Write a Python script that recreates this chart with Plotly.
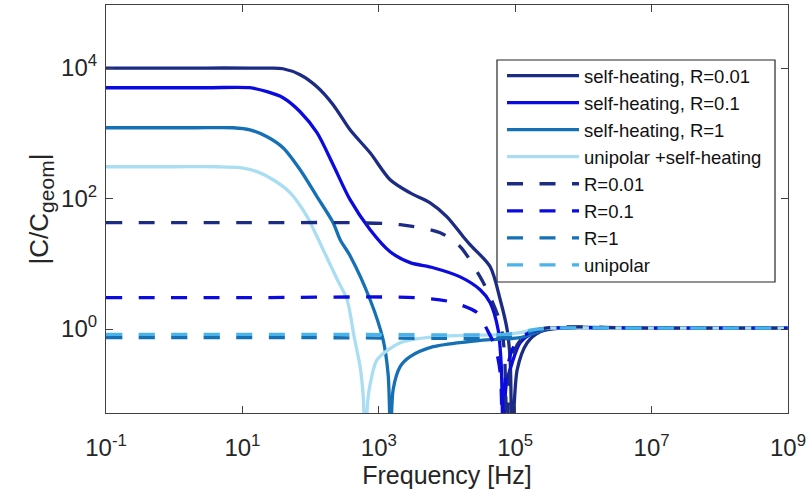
import plotly.graph_objects as go

# ---- data (frequency in Hz, |C/C_geom|) ----
f_sh001 = [0.1, 3.0, 12.9, 25.0, 39.4, 70.2, 124, 214, 379, 746, 1466, 2877, 5662, 1.0e4, 1.73e4,
           2.19e4, 4.3e4, 6.03e4, 7.62e4, 8.43e4, 9.04e4, 1.07e5, 1.5e5, 2.32e5, 4.57e5, 1e7, 1e9]
c_sh001 = [1.0e4, 1.0e4, 1.0e4, 9950, 9750, 7890, 5160, 2740, 1130, 502, 194, 122, 86, 52.5, 26,
           19.5, 9.0, 2.81, 0.975, 0.34, 0.02, 0.238, 0.617, 0.91, 1.03, 1.03, 1.03]

f_sh01 = [0.1, 3.0, 12.9, 23.0, 39.4, 70.2, 124, 214, 379, 746, 1466, 2877, 6270, 1.56e4,
          3.06e4, 4.3e4, 5.62e4, 6.24e4, 6.67e4, 7.38e4, 9.04e4, 1.18e5, 1.84e5, 3.26e5, 1e7, 1e9]
c_sh01 = [4990, 4990, 4990, 4340, 3510, 2140, 1020, 330, 96, 33.3, 15.3, 10.4, 8.7, 6.3,
          4.0, 2.53, 0.975, 0.28, 0.02, 0.14, 0.305, 0.617, 0.877, 1.03, 1.03, 1.03]

f_sh1 = [0.1, 2.0, 7.3, 12.9, 23.0, 39.4, 70.2, 124, 214, 271, 379, 746, 1156, 1371, 1490,
         1622, 2056, 2877, 6270, 1.98e4, 4.3e4, 1.18e5, 1.96e5, 3.26e5, 1e7, 1e9]
c_sh1 = [1215, 1215, 1215, 1130, 885, 600, 276, 107, 42.6, 23.4, 13.3, 2.81, 0.686, 0.2, 0.02,
         0.117, 0.265, 0.377, 0.536, 0.638, 0.686, 0.736, 0.877, 1.03, 1.03, 1.03]

f_ush = [0.1, 1.0, 4.25, 9.25, 16.4, 28.2, 50.0, 88.9, 124, 245, 343, 435, 532, 589, 630,
         697, 771, 944, 2056, 6270, 7.13e4, 1.18e5, 1.84e5, 3.26e5, 1e7, 1e9]
c_ush = [307, 307, 307, 297, 258, 194, 123, 52.7, 26.1, 5.79, 2.81, 0.762, 0.265, 0.0986, 0.02,
         0.09, 0.168, 0.339, 0.617, 0.762, 0.83, 0.88, 0.98, 1.03, 1.03, 1.03]

f_r001 = [0.1, 10, 379, 2056, 7940, 1.56e4, 3.06e4, 4.3e4, 6.03e4, 6.9e4, 7.62e4, 8.44e4,
          1.07e5, 1.5e5, 2.75e5, 1e7, 1e9]
c_r001 = [42.6, 42.6, 42.6, 39.7, 29.9, 18.3, 6.3, 3.13, 1.25, 0.48, 0.02, 0.238,
          0.575, 0.82, 1.03, 1.03, 1.03]

f_r01 = [0.1, 10, 3650, 1.11e4, 2.77e4, 3.88e4, 5.08e4, 6.03e4, 6.55e4, 7.13e4, 9.04e4,
         1.18e5, 1.96e5, 3.26e5, 1e7, 1e9]
c_r01 = [3.02, 3.02, 3.02, 2.62, 1.78, 0.975, 0.537, 0.214, 0.02, 0.167, 0.482,
         0.736, 0.94, 1.03, 1.03, 1.03]

f_r1 = [0.1, 100, 7.13e4, 1.18e5, 1.84e5, 3.26e5, 1e7, 1e9]
c_r1 = [0.736, 0.736, 0.736, 0.79, 0.94, 1.03, 1.03, 1.03]

f_uni = [0.1, 100, 7.13e4, 1.18e5, 1.84e5, 3.26e5, 1e7, 1e9]
c_uni = [0.83, 0.83, 0.83, 0.88, 0.98, 1.03, 1.03, 1.03]

x_tickvals = [1e-1, 1e1, 1e3, 1e5, 1e7, 1e9]
x_ticktext = ["10<sup>-1</sup>", "10<sup>1</sup>", "10<sup>3</sup>",
              "10<sup>5</sup>", "10<sup>7</sup>", "10<sup>9</sup>"]
y_tickvals = [1e0, 1e2, 1e4]
y_ticktext = ["10<sup>0</sup>", "10<sup>2</sup>", "10<sup>4</sup>"]

NAVY = "#1c2c84"
BLUE = "#0b0be0"
STEEL = "#1671b4"
LIGHT = "#a9def2"
UNI = "#4ab3ea"
DASH = "16px,16.5px"

series = [
    ("self-heating, R=0.01", f_sh001, c_sh001, NAVY, "solid"),
    ("self-heating, R=0.1", f_sh01, c_sh01, BLUE, "solid"),
    ("self-heating, R=1", f_sh1, c_sh1, STEEL, "solid"),
    ("unipolar +self-heating", f_ush, c_ush, LIGHT, "solid"),
    ("R=0.01", f_r001, c_r001, NAVY, DASH),
    ("R=0.1", f_r01, c_r01, BLUE, DASH),
    ("R=1", f_r1, c_r1, STEEL, DASH),
    ("unipolar", f_uni, c_uni, UNI, DASH),
]

FONT = "Arial, 'Liberation Sans', Helvetica, sans-serif"
TXT = "#262626"
fig = go.Figure()
for name, fx, cy, col, dash in series:
    fig.add_trace(go.Scatter(x=fx, y=cy, mode="lines", name=name,
                             line=dict(color=col, width=3.3, dash=dash,
                                       shape="spline", smoothing=0.8)))

axis_common = dict(type="log", showgrid=False, zeroline=False, showline=True,
                   linecolor="#404040", linewidth=1.2, mirror="ticks",
                   ticks="inside", ticklen=7, tickcolor="#404040", tickwidth=1.2,
                   tickfont=dict(family=FONT, size=24, color=TXT))

fig.update_layout(
    width=809, height=501,
    margin=dict(l=106, r=21, t=5, b=88, autoexpand=False),
    paper_bgcolor="white", plot_bgcolor="white",
    font=dict(family=FONT, color=TXT),
    xaxis=dict(**axis_common, range=[-1, 9], tickvals=x_tickvals, ticktext=x_ticktext,
               ticklabelstandoff=13,
               title=dict(text="Frequency [Hz]", font=dict(family=FONT, size=25, color=TXT),
                          standoff=4)),
    yaxis=dict(**axis_common, range=[-1.287, 4.966], tickvals=y_tickvals, ticktext=y_ticktext,
               ticklabelstandoff=3,
               title=dict(text="|C/C<sub><span style='font-size:21px'>geom</span></sub>|",
                          font=dict(family=FONT, size=26, color=TXT),
                          standoff=4)),
    legend=dict(x=(502 - 106) / 682, y=(413 - 57) / 408, xanchor="left", yanchor="top",
                bgcolor="rgba(0,0,0,0)", borderwidth=0,
                font=dict(family=FONT, size=18.5, color="#111111"),
                itemwidth=72, tracegroupgap=0),
    showlegend=True,
    shapes=[dict(type="rect", xref="paper", yref="paper",
                 x0=(497 - 106) / 682, x1=(775 - 106) / 682,
                 y0=(413 - 282) / 408, y1=(413 - 60) / 408,
                 line=dict(color="#262626", width=1.2), fillcolor="white", layer="below")],
)

fig.write_html("out.html", config={"displayModeBar": False},
               post_script="document.body.style.margin='0';")
